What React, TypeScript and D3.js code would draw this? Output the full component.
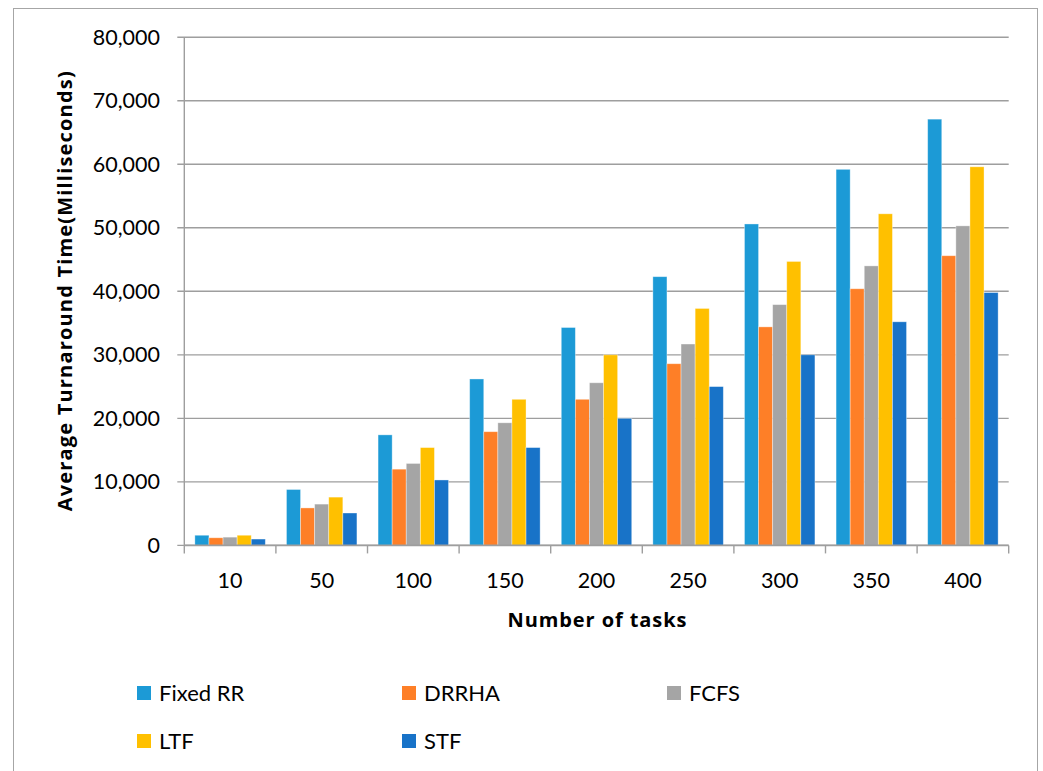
import React from "react";
import * as d3 from "d3";

// Number of tasks on the x axis
const categories: string[] = ["10", "50", "100", "150", "200", "250", "300", "350", "400"];

// Average turnaround time (ms) per scheduling algorithm
const fixedRR: number[] = [1600, 8800, 17400, 26200, 34300, 42300, 50600, 59200, 67100];
const drrha: number[] = [1200, 5900, 12000, 17900, 23000, 28600, 34400, 40400, 45600];
const fcfs: number[] = [1300, 6500, 12900, 19300, 25600, 31700, 37900, 44000, 50300];
const ltf: number[] = [1600, 7600, 15400, 23000, 30000, 37300, 44700, 52200, 59600];
const stf: number[] = [1000, 5100, 10300, 15400, 20000, 25000, 30000, 35200, 39800];

const seriesNames: string[] = ["Fixed RR", "DRRHA", "FCFS", "LTF", "STF"];
const yTicks: number[] = [0, 10000, 20000, 30000, 40000, 50000, 60000, 70000, 80000];

const colors: string[] = ["#1c9ad6", "#fe7f27", "#a5a5a5", "#ffc000", "#1873c8"];

const W = 1043;
const H = 771;
const plot = { left: 184.3, right: 1008.7, top: 37.2, bottom: 545.4 };
const FONT = "Lato, 'Noto Sans', sans-serif";
const TITLE_FONT = "'Open Sans', 'Noto Sans', sans-serif";

export default function App() {
  const series = [fixedRR, drrha, fcfs, ltf, stf];

  const x0 = d3
    .scaleBand<string>()
    .domain(categories)
    .range([plot.left, plot.right])
    .paddingInner(0)
    .paddingOuter(0);

  // Bars take 5 of 6.5 slot widths (gap width 150%)
  const groupWidth = (x0.bandwidth() * 5) / 6.5;
  const x1 = d3
    .scaleBand<string>()
    .domain(seriesNames)
    .range([0, groupWidth])
    .padding(0);

  const y = d3.scaleLinear().domain([0, 80000]).range([plot.bottom, plot.top]);
  const fmt = d3.format(",");

  const legendCols = [137, 402, 667];
  const legendRows = [693, 741];

  return (
    <div style={{ position: "fixed", left: 0, top: 0 }}>
      <svg width={W} height={H} style={{ display: "block", background: "#fff" }}>
        <rect x={13.5} y={8.5} width={1024} height={800} fill="#fff" stroke="#a6a6a6" strokeWidth={1} />

        {/* gridlines and y ticks */}
        {yTicks.map((t) => (
          <g key={t}>
            <line
              x1={plot.left - 7}
              x2={plot.right}
              y1={y(t)}
              y2={y(t)}
              stroke="#9e9e9e"
              strokeWidth={1.4}
            />
            <text
              x={160}
              y={y(t)}
              dy="0.35em"
              textAnchor="end"
              fontFamily={FONT}
              fontSize={21.5}
              fill="#000"
            >
              {fmt(t)}
            </text>
          </g>
        ))}

        {/* y axis line */}
        <line x1={plot.left} x2={plot.left} y1={plot.top} y2={plot.bottom} stroke="#9e9e9e" strokeWidth={1.4} />

        {/* bars */}
        {categories.map((c, ci) => {
          const gx = (x0(c) as number) + (x0.bandwidth() - groupWidth) / 2;
          return (
            <g key={c}>
              {series.map((s, si) => {
                const v = s[ci];
                return (
                  <rect
                    key={si}
                    x={gx + (x1(seriesNames[si]) as number)}
                    y={y(v)}
                    width={x1.bandwidth()}
                    height={y(0) - y(v)}
                    fill={colors[si]}
                    stroke="#ffffff"
                    strokeOpacity={0.45}
                    strokeWidth={0.8}
                  />
                );
              })}
            </g>
          );
        })}

        {/* x axis line and ticks */}
        <line x1={plot.left} x2={plot.right} y1={plot.bottom} y2={plot.bottom} stroke="#9e9e9e" strokeWidth={1.6} />
        {d3.range(categories.length + 1).map((i) => {
          const tx = plot.left + i * x0.bandwidth();
          return (
            <line key={i} x1={tx} x2={tx} y1={plot.bottom} y2={plot.bottom + 8} stroke="#9e9e9e" strokeWidth={1.4} />
          );
        })}
        {categories.map((c) => (
          <text
            key={c}
            x={(x0(c) as number) + x0.bandwidth() / 2}
            y={587.5}
            textAnchor="middle"
            fontFamily={FONT}
            fontSize={21.5}
            fill="#000"
          >
            {c}
          </text>
        ))}

        {/* axis titles */}
        <text
          x={597}
          y={627}
          textAnchor="middle"
          fontFamily={TITLE_FONT}
          fontWeight="bold"
          fontSize={20}
          textLength={179}
          fill="#000"
        >
          Number of tasks
        </text>
        <text
          transform={`translate(72, ${(plot.top + plot.bottom) / 2}) rotate(-90)`}
          textAnchor="middle"
          fontFamily={TITLE_FONT}
          fontWeight="bold"
          fontSize={20}
          textLength={440}
          fill="#000"
        >
          Average Turnaround Time(Milliseconds)
        </text>

        {/* legend */}
        {seriesNames.map((name, i) => {
          const lx = legendCols[i % 3];
          const ly = legendRows[Math.floor(i / 3)];
          return (
            <g key={name}>
              <rect x={lx} y={ly - 7} width={14} height={14} fill={colors[i]} />
              <text
                x={lx + 22}
                y={ly}
                dy="0.35em"
                fontFamily={FONT}
                fontSize={22}
                fill="#000"
              >
                {name}
              </text>
            </g>
          );
        })}
      </svg>
    </div>
  );
}
